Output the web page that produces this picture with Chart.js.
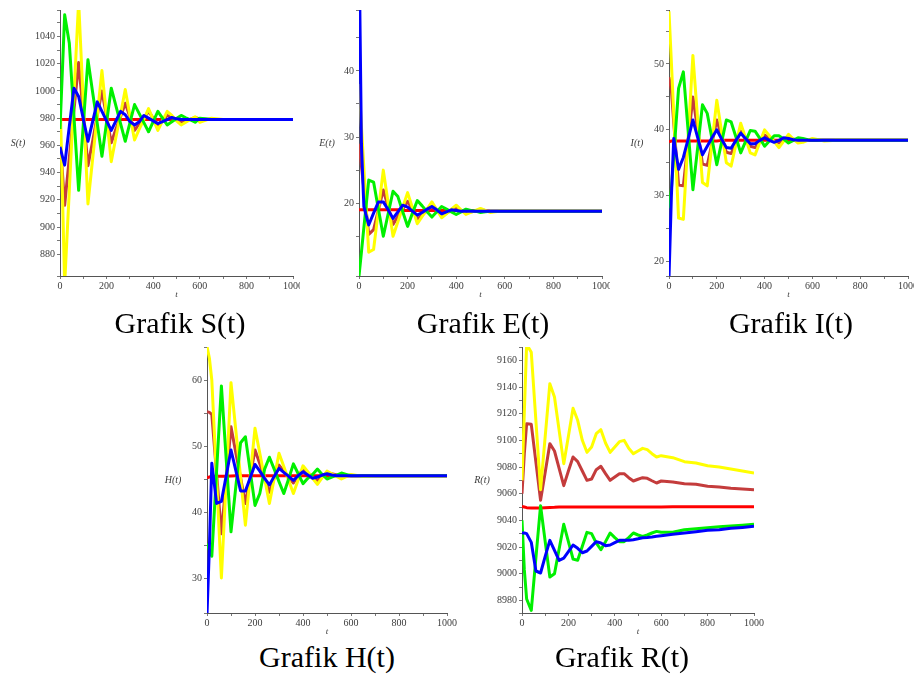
<!DOCTYPE html>
<html>
<head>
<meta charset="utf-8">
<script src="https://cdn.jsdelivr.net/npm/chart.js@4.4.1/dist/chart.umd.min.js"></script>
<style>
  body { margin: 0; background: #fff; }
  #page { position: relative; width: 914px; height: 675px; overflow: hidden; background: #fff; }
  canvas { position: absolute; }
  .caption {
    position: absolute; width: 240px; text-align: center;
    font-family: "Liberation Serif", "Times New Roman", serif;
    font-size: 30px; line-height: 30px; color: #000; white-space: nowrap;
  }
</style>
</head>
<body>
<div id="page">
  <canvas id="chartS" width="300" height="300" style="left:0px;top:0px"></canvas>
  <canvas id="chartE" width="300" height="300" style="left:310px;top:0px"></canvas>
  <canvas id="chartI" width="300" height="300" style="left:614px;top:0px"></canvas>
  <canvas id="chartH" width="320" height="300" style="left:150px;top:337px"></canvas>
  <canvas id="chartR" width="320" height="300" style="left:460px;top:337px"></canvas>

  <div class="caption" style="left:60px;top:308px">Grafik S(t)</div>
  <div class="caption" style="left:363px;top:308px">Grafik E(t)</div>
  <div class="caption" style="left:671px;top:308px">Grafik I(t)</div>
  <div class="caption" style="left:207px;top:642px">Grafik H(t)</div>
  <div class="caption" style="left:502px;top:642px">Grafik R(t)</div>
</div>

<script>
// time points shared by every series
var timePoints = [0, 10, 20, 40, 60, 80, 100, 120, 140, 160, 180, 200, 220, 240, 260, 280, 300, 320, 340, 360,
                  380, 400, 420, 440, 460, 480, 500, 520, 540, 560, 580, 600, 650, 700, 750, 800, 850, 900, 950, 1000];

// S(t)
var sRed    = [979, 979, 979, 979, 979, 979, 979, 979, 979, 979, 979, 979, 979, 979, 979, 979, 979, 979, 979, 979,
               979, 979, 979, 979, 979, 979, 979, 979, 979, 979, 979, 979, 979, 979, 979, 979, 979, 979, 979, 979];
var sBrown  = [966, 941, 916, 951, 986, 1021, 983, 945, 963, 982, 1000, 981, 962, 972, 981, 991, 981, 971, 976, 980,
               985, 980, 975, 978.5, 982, 980.3, 978.7, 977, 978.2, 979.3, 980.5, 979.5, 979, 979, 979, 979, 979, 979, 979, 979];
var sYellow = [998, 928, 858, 927, 997, 1066, 991, 917, 950, 982, 1015, 981, 948, 966, 983, 1001, 982, 964, 972, 979,
               987, 979, 971, 978, 985, 982, 978, 975, 977, 979, 981, 977, 980, 979, 979, 979, 979, 979, 979, 979];
var sGreen  = [972, 1014, 1056, 1035, 981, 927, 975, 1023, 999, 976, 952, 977, 1002, 989, 976, 963, 976.5, 990, 983.3, 976.7,
               970, 977.5, 985, 980, 975, 977.3, 979.7, 982, 980.3, 978.7, 977, 980, 979, 979, 979, 979, 979, 979, 979, 979];
var sBlue   = [959, 952, 945.5, 974, 1002, 996, 979.5, 963, 977.5, 992, 985, 978, 971, 978, 985, 982.5, 977.5, 975, 977.3, 982,
               980, 978, 976, 977.5, 979, 980.5, 979.5, 979, 979, 979, 979, 979, 979, 979, 979, 979, 979, 979, 979, 979];

// E(t)
var eRed    = [19, 19, 19, 19, 19, 19, 19, 19, 19, 19, 18.9, 18.9, 18.9, 18.9, 18.9, 18.9, 18.9, 18.9, 18.9, 18.9,
               18.9, 18.9, 18.9, 18.9, 18.9, 18.9, 18.8, 18.8, 18.8, 18.8, 18.8, 18.8, 18.8, 18.8, 18.8, 18.8, 18.8, 18.8, 18.8, 18.8];
var eBrown  = [29, 25.6, 22.2, 15.3, 16, 19, 22, 19.4, 16.8, 18, 19.1, 20.3, 19, 17.6, 18.2, 18.9, 19.5, 18.9, 18.2, 18.5,
               18.9, 19.2, 18.9, 18.5, 18.7, 18.8, 19, 18.9, 18.8, 18.8, 18.8, 18.8, 18.8, 18.8, 18.8, 18.8, 18.8, 18.8, 18.8, 18.8];
var eYellow = [38, 31.6, 25.3, 12.6, 13, 19, 25, 20, 15, 17.2, 19.4, 21.6, 19.3, 16.9, 18, 19.1, 20.2, 19, 17.8, 18.4,
               19.1, 19.7, 19, 18.3, 18.6, 18.9, 19.2, 18.9, 18.6, 18.7, 18.8, 18.8, 18.8, 18.8, 18.8, 18.8, 18.8, 18.8, 18.8, 18.8];
var eGreen  = [9, 12.6, 16.3, 23.5, 23.2, 19.1, 15, 18.4, 21.8, 21, 18.7, 16.5, 18.5, 20.4, 19.6, 18.7, 17.9, 18.7, 19.5, 19.1,
               18.7, 18.3, 18.7, 19.1, 18.9, 18.8, 18.6, 18.7, 18.8, 18.8, 18.8, 18.8, 18.8, 18.8, 18.8, 18.8, 18.8, 18.8, 18.8, 18.8];
var eBlue   = [60, 29, 19.5, 16.7, 18.5, 20.2, 20.2, 19, 17.7, 18.7, 19.7, 19.4, 18.8, 18.2, 18.6, 19.1, 19.5, 19, 18.4, 18.7,
               19, 18.9, 18.8, 18.8, 18.8, 18.8, 18.8, 18.8, 18.8, 18.8, 18.8, 18.8, 18.8, 18.8, 18.8, 18.8, 18.8, 18.8, 18.8, 18.8];

// I(t)
var iRed    = [38.2, 38.3, 38.3, 38.3, 38.3, 38.3, 38.3, 38.3, 38.3, 38.3, 38.3, 38.3, 38.4, 38.4, 38.4, 38.4, 38.4, 38.4, 38.4, 38.4,
               38.4, 38.4, 38.4, 38.4, 38.4, 38.4, 38.4, 38.4, 38.4, 38.4, 38.4, 38.4, 38.4, 38.4, 38.4, 38.4, 38.4, 38.4, 38.4, 38.4];
var iBrown  = [48, 46, 41, 31.6, 31.5, 38.2, 45, 39.9, 34.8, 34.6, 38, 41.5, 39, 36.6, 36.4, 38.1, 39.8, 38.6, 37.5, 37.3,
               38.2, 39.2, 38.8, 38.4, 38, 38.4, 38.9, 38.6, 38.4, 38.4, 38.4, 38.4, 38.4, 38.4, 38.4, 38.4, 38.4, 38.4, 38.4, 38.4];
var iYellow = [58, 50.2, 42.3, 26.6, 26.4, 38.9, 51.3, 41.5, 32, 31.5, 38, 44.5, 39.7, 35, 34.5, 37.8, 41, 38.8, 36.5, 36.2,
               38.1, 40, 39.1, 38.2, 37.3, 38.3, 39.3, 38.6, 38, 38.1, 38.4, 38.7, 38.3, 38.4, 38.4, 38.4, 38.4, 38.4, 38.4, 38.4];
var iGreen  = [28.1, 31, 36.1, 46.3, 48.8, 39.9, 30.9, 37.3, 43.8, 42.5, 38.6, 34.7, 38.1, 41.5, 41.2, 38.9, 36.5, 38.2, 39.9, 39.8,
               38.7, 37.5, 38.3, 39.1, 39.1, 38.6, 38, 38.4, 38.8, 38.7, 38.5, 38.4, 38.4, 38.4, 38.4, 38.4, 38.4, 38.4, 38.4, 38.4];
var iBlue   = [17.5, 30, 38.7, 34, 35.8, 38.6, 41.5, 38.8, 36.2, 37.5, 38.8, 40, 38.6, 37.3, 37.2, 38.4, 39.5, 38.7, 37.9, 37.9,
               38.4, 38.8, 38.4, 38.1, 38.4, 38.8, 38.7, 38.5, 38.4, 38.4, 38.4, 38.4, 38.4, 38.4, 38.4, 38.4, 38.4, 38.4, 38.4, 38.4];

// H(t)
var hRed    = [45.2, 45.3, 45.4, 45.4, 45.4, 45.4, 45.45, 45.5, 45.5, 45.5, 45.5, 45.5, 45.5, 45.5, 45.5, 45.5, 45.5, 45.5, 45.5, 45.5,
               45.5, 45.5, 45.5, 45.5, 45.5, 45.5, 45.5, 45.5, 45.5, 45.5, 45.5, 45.5, 45.5, 45.5, 45.5, 45.5, 45.5, 45.5, 45.5, 45.5];
var hBrown  = [55.2, 55.1, 54.8, 45.8, 36.7, 44.8, 52.9, 49, 45.2, 41.3, 45.4, 49.4, 47.3, 45.1, 43, 45.1, 47.1, 46.2, 45.3, 44.4,
               45.5, 46.5, 45.9, 45.4, 44.8, 45.4, 45.9, 45.8, 45.6, 45.5, 45.5, 45.5, 45.5, 45.5, 45.5, 45.5, 45.5, 45.5, 45.5, 45.5];
var hYellow = [65.1, 63.3, 60, 45, 30, 44.8, 59.6, 52.4, 45.2, 38, 45.4, 52.7, 48.9, 45.1, 41.3, 45.1, 48.9, 46.9, 44.8, 42.8,
               44.9, 47, 46.1, 45.1, 44.2, 45.2, 46.2, 45.8, 45.4, 45, 45.35, 45.7, 45.4, 45.5, 45.5, 45.5, 45.5, 45.5, 45.5, 45.5];
var hGreen  = [35.2, 34.2, 33.3, 46.2, 59.1, 48, 37, 43.8, 50.5, 51.4, 46.2, 41, 42.8, 46.5, 48.3, 46.5, 44.6, 42.8, 45, 47.3,
               45.8, 44.3, 45.1, 45.7, 46.5, 45.7, 45, 45.3, 45.6, 45.9, 45.7, 45.5, 45.5, 45.5, 45.5, 45.5, 45.5, 45.5, 45.5, 45.5];
var hBlue   = [24.5, 34.7, 47.4, 41.3, 41.6, 45.5, 49.4, 46.3, 43.2, 43.2, 45.2, 47.2, 46.2, 45.1, 44.1, 45.4, 46.6, 46, 45.4, 44.8,
               45.5, 46.1, 45.6, 45.1, 45.3, 45.6, 45.8, 45.6, 45.5, 45.5, 45.5, 45.5, 45.5, 45.5, 45.5, 45.5, 45.5, 45.5, 45.5, 45.5];

// R(t)
var rRed    = [9050.5, 9050, 9049.5, 9049.3, 9049.2, 9049.3, 9049.5, 9049.7, 9049.8, 9050, 9050, 9050, 9050, 9050, 9050, 9050,
               9050, 9050, 9050, 9050, 9050, 9050, 9050, 9050, 9050, 9050, 9050, 9050, 9050, 9050, 9050, 9050,
               9050.2, 9050.2, 9050.2, 9050.2, 9050.2, 9050.2, 9050.2, 9050.2];
var rBrown  = [9060, 9090, 9112.5, 9112, 9083.5, 9055, 9076, 9097.5, 9092, 9079, 9066, 9077, 9087.5, 9084, 9077, 9070,
               9071, 9078, 9080.5, 9075, 9070, 9072.5, 9075, 9075, 9072, 9069.5, 9070.8, 9072, 9071.5, 9069.7, 9068,
               9069.5, 9068.7, 9067.5, 9067, 9065.5, 9065, 9064, 9063.5, 9063];
var rYellow = [9070, 9121, 9172, 9166, 9114.5, 9063, 9103, 9142.5, 9132.5, 9107.5, 9082.5, 9103, 9124, 9115, 9100, 9091,
               9095, 9105, 9108, 9098, 9091, 9095, 9099, 9100, 9094, 9090, 9092, 9094, 9093, 9090, 9087.5,
               9088.5, 9087, 9084, 9083, 9081, 9080, 9078.5, 9077, 9075.5];
var rGreen  = [9040, 9003, 8981, 8972.5, 9012, 9051, 9024, 8997.5, 9000, 9018.5, 9037, 9024, 9011, 9010, 9020.5, 9031,
               9030, 9023, 9018, 9024, 9030.5, 9027, 9024, 9024, 9027, 9030.5, 9029, 9028, 9029, 9030.5, 9031.7,
               9031, 9031, 9033, 9033.7, 9034.5, 9035.2, 9035.8, 9036.4, 9037];
var rBlue   = [9030.5, 9030.5, 9030, 9023.5, 9002, 9000.5, 9013, 9025, 9017.5, 9010, 9011.7, 9016.6, 9021.5, 9019, 9015.7, 9017,
               9020.5, 9024, 9023, 9021, 9021.5, 9023.3, 9025, 9025, 9025, 9025.5, 9026.2, 9027, 9027.2, 9027.5, 9028,
               9028.5, 9029.5, 9030.5, 9031.5, 9032.5, 9033, 9034, 9034.7, 9035.5];

var lineColors = { red: '#ff0000', brown: '#c43c3c', yellow: '#ffff00', green: '#00f000', blue: '#0000ff' };
var tickColor = '#3c3c3c';
var serif = '"Liberation Serif", "Times New Roman", serif';

// draws the y name (horizontal, left of the tick labels) and the small italic "t" under the x axis
var axisNames = {
    id: 'axisNames',
    afterDraw: function (chart, args, opts) {
        var ctx = chart.ctx, a = chart.chartArea;
        ctx.save();
        ctx.fillStyle = tickColor;
        ctx.textAlign = 'center';
        ctx.textBaseline = 'middle';
        ctx.font = 'italic 10px ' + serif;
        ctx.fillText(opts.yName, a.left - opts.yOffset, (a.top + a.bottom) / 2);
        ctx.font = 'italic 9px ' + serif;
        ctx.fillText('t', (a.left + a.right) / 2, a.bottom + 19);
        ctx.restore();
    }
};

function points(values) {
    return timePoints.map(function (t, i) { return { x: t, y: values[i] }; });
}

function line(values, color) {
    return {
        data: points(values),
        borderColor: color,
        borderWidth: 3,
        borderJoinStyle: 'round',
        pointRadius: 0,
        tension: 0,
        fill: false
    };
}

function makePanel(id, cfg) {
    new Chart(document.getElementById(id), {
        type: 'line',
        data: {
            // first dataset is painted on top
            datasets: [
                line(cfg.blue, lineColors.blue),
                line(cfg.green, lineColors.green),
                line(cfg.yellow, lineColors.yellow),
                line(cfg.brown, lineColors.brown),
                line(cfg.red, lineColors.red)
            ]
        },
        plugins: [axisNames],
        options: {
            responsive: false,
            animation: false,
            events: [],
            layout: { padding: { top: cfg.padTop, right: cfg.padRight, left: 0, bottom: 0 } },
            plugins: {
                legend: { display: false },
                tooltip: { enabled: false },
                axisNames: { yName: cfg.yName, yOffset: cfg.yOffset }
            },
            scales: {
                x: {
                    type: 'linear',
                    min: 0,
                    max: 1000,
                    afterFit: function (scale) {
                        scale.height = cfg.xHeight;
                        scale.paddingLeft = 0;
                        scale.paddingRight = 0;
                    },
                    border: { display: true, color: '#555', width: 1 },
                    grid: { drawOnChartArea: false, drawTicks: true, tickLength: 3, color: '#777' },
                    ticks: {
                        stepSize: 100,
                        autoSkip: false,
                        maxRotation: 0,
                        padding: 1,
                        color: tickColor,
                        font: { family: serif, size: 10 },
                        callback: function (v) { return v % 200 === 0 ? String(v) : ''; }
                    }
                },
                y: {
                    type: 'linear',
                    min: cfg.yMin,
                    max: cfg.yMax,
                    afterFit: function (scale) {
                        scale.width = cfg.yWidth;
                        scale.paddingTop = 0;
                        scale.paddingBottom = 0;
                    },
                    border: { display: true, color: '#555', width: 1 },
                    grid: { drawOnChartArea: false, drawTicks: true, tickLength: 3, color: '#777' },
                    ticks: {
                        stepSize: cfg.yStep,
                        autoSkip: false,
                        padding: 2,
                        color: tickColor,
                        font: { family: serif, size: 10 },
                        callback: function (v) {
                            var r = Math.round(v * 1000) / 1000;
                            return r % cfg.yMajor === 0 ? String(r) : '';
                        }
                    }
                }
            }
        }
    });
}

makePanel('chartS', {
    red: sRed, brown: sBrown, yellow: sYellow, green: sGreen, blue: sBlue,
    yMin: 864, yMax: 1059.5, yStep: 10, yMajor: 20, yName: 'S(t)', yOffset: 42,
    yWidth: 60, xHeight: 24, padTop: 10, padRight: 7
});
makePanel('chartE', {
    red: eRed, brown: eBrown, yellow: eYellow, green: eGreen, blue: eBlue,
    yMin: 9, yMax: 49.2, yStep: 5, yMajor: 10, yName: 'E(t)', yOffset: 32,
    yWidth: 49, xHeight: 24, padTop: 10, padRight: 8
});
makePanel('chartI', {
    red: iRed, brown: iBrown, yellow: iYellow, green: iGreen, blue: iBlue,
    yMin: 17.8, yMax: 58.2, yStep: 5, yMajor: 10, yName: 'I(t)', yOffset: 32,
    yWidth: 55, xHeight: 24, padTop: 10, padRight: 6
});
makePanel('chartH', {
    red: hRed, brown: hBrown, yellow: hYellow, green: hGreen, blue: hBlue,
    yMin: 24.7, yMax: 65, yStep: 5, yMajor: 10, yName: 'H(t)', yOffset: 34,
    yWidth: 57, xHeight: 24, padTop: 10, padRight: 23
});
makePanel('chartR', {
    red: rRed, brown: rBrown, yellow: rYellow, green: rGreen, blue: rBlue,
    yMin: 8970.5, yMax: 9170, yStep: 10, yMajor: 20, yName: 'R(t)', yOffset: 40,
    yWidth: 62, xHeight: 24, padTop: 10, padRight: 26
});
</script>
</body>
</html>
